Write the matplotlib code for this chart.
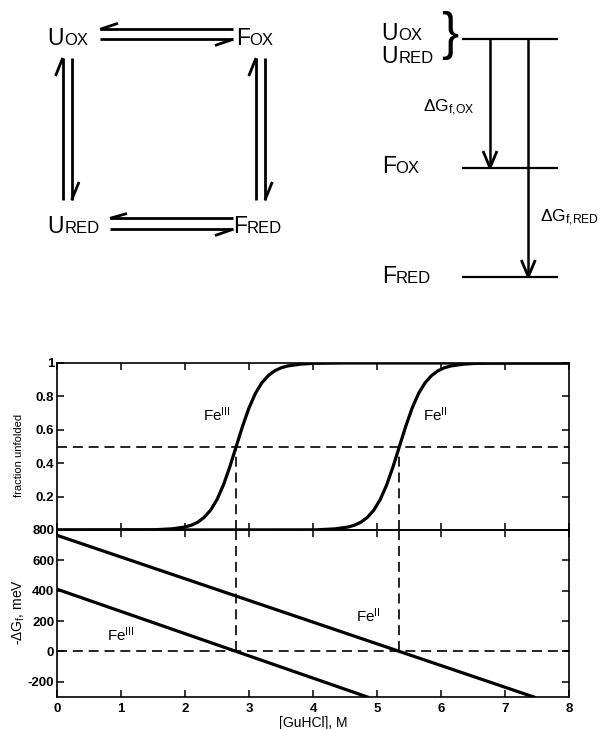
import matplotlib
matplotlib.use("Agg")
import matplotlib.pyplot as plt

plt.rcParams['font.family'] = ['Liberation Sans', 'DejaVu Sans']
plt.rcParams['mathtext.fontset'] = 'custom'
plt.rcParams['mathtext.rm'] = 'Liberation Sans'
plt.rcParams['mathtext.it'] = 'Liberation Sans:italic'
plt.rcParams['mathtext.bf'] = 'Liberation Sans:bold'

# ---------------- data ----------------
guhcl_fe3 = [0, 1.5, 1.8, 2.0, 2.1, 2.2, 2.3, 2.4, 2.5, 2.6, 2.7, 2.8, 2.9, 3.0,
             3.1, 3.2, 3.3, 3.4, 3.5, 3.6, 3.8, 4.0, 4.5, 8]
frac_fe3 = [0, 0.001, 0.007, 0.018, 0.029, 0.047, 0.076, 0.119, 0.182, 0.269,
            0.378, 0.5, 0.622, 0.731, 0.818, 0.881, 0.924, 0.953, 0.971, 0.982,
            0.993, 0.998, 1.0, 1.0]
guhcl_fe2 = [0, 4.05, 4.35, 4.55, 4.65, 4.75, 4.85, 4.95, 5.05, 5.15, 5.25, 5.35,
             5.45, 5.55, 5.65, 5.75, 5.85, 5.95, 6.05, 6.15, 6.35, 6.55, 7.05, 8]
frac_fe2 = frac_fe3

dg_fe3_x = [0, 4.85]
dg_fe3 = [410, -300]
dg_fe2_x = [0, 7.45]
dg_fe2 = [765, -300]

midpoints = [2.8, 5.35]

x_ticks = [0, 1, 2, 3, 4, 5, 6, 7, 8]
frac_ticks = [0.2, 0.4, 0.6, 0.8, 1.0]
frac_ticklabels = ['0.2', '0.4', '0.6', '0.8', '1']
dg_ticks = [-200, 0, 200, 400, 600, 800]
dg_ticklabels = ['-200', '0', '200', '400', '600', '800']

# ---------------- figure ----------------
W, H = 604, 729
fig = plt.figure(figsize=(W / 100, H / 100), dpi=100)

# overlay in pixel coordinates for the schematic diagrams
ax0 = fig.add_axes([0, 0, 1, 1], zorder=0)
ax0.set_xlim(0, W)
ax0.set_ylim(H, 0)
ax0.axis('off')

lw_ar = 2.0
def seg(p, q, lw=lw_ar):
    ax0.plot([p[0], q[0]], [p[1], q[1]], color='black', lw=lw,
             solid_capstyle='butt')

# thermodynamic cycle: half-arrow pairs
# top horizontal
seg((100, 29.3), (233, 29.3)); seg((100, 29.3), (118, 23.3))
seg((100, 39.3), (233, 39.3)); seg((233, 39.3), (215, 45.5))
# bottom horizontal
seg((110, 218.3), (233, 218.3)); seg((110, 218.3), (127, 213.5))
seg((110, 229.3), (233, 229.3)); seg((233, 229.3), (215, 235.5))
# left vertical
seg((62.7, 58), (62.7, 200)); seg((62.7, 58), (55.5, 76))
seg((71.7, 58), (71.7, 200)); seg((71.7, 200), (79, 182))
# right vertical
seg((256, 58), (256, 200)); seg((256, 58), (248.8, 76))
seg((265, 58), (265, 200)); seg((265, 200), (272.3, 182))

def species(x, ybase, main, sub):
    ax0.text(x, ybase, main, fontsize=16.5, ha='left', va='baseline')
    ax0.text(x + (17.5 if main == 'U' else 13.5), ybase, sub,
             fontsize=12, ha='left', va='baseline')

species(47, 45, 'U', 'OX')
species(236, 45, 'F', 'OX')
species(47, 233, 'U', 'RED')
species(233, 233, 'F', 'RED')

# energy level diagram
for yl in (39.3, 167.7, 276.7):
    seg((462, yl), (558, yl), lw=1.6)
seg((490, 39.3), (490, 167.7), lw=1.8)
seg((490, 167.7), (483, 151)); seg((490, 167.7), (497, 151))
seg((528.3, 39.3), (528.3, 276.7), lw=1.8)
seg((528.3, 276.7), (521.3, 260)); seg((528.3, 276.7), (535.3, 260))

species(381, 40, 'U', 'OX')
species(381, 63.3, 'U', 'RED')
species(382, 172.7, 'F', 'OX')
species(382, 282.7, 'F', 'RED')
ax0.text(450, 35, '}', fontsize=37, ha='center', va='center')
ax0.text(423, 112, r'ΔG$_{\mathrm{f{,}OX}}$', fontsize=12.5, ha='left',
         va='baseline')
ax0.text(540, 222, r'ΔG$_{\mathrm{f{,}RED}}$', fontsize=12.5, ha='left',
         va='baseline')

# axis labels in pixel coords
ax0.text(19, 455, 'fraction unfolded', fontsize=8, rotation=90,
         ha='center', va='center')
ax0.text(19, 612, r'-ΔG$_{\mathrm{f}}$, meV', fontsize=10, rotation=90,
         ha='center', va='center')
ax0.text(313, 716.5, '[GuHCl], M', fontsize=10, ha='center', va='top')

# ---------------- data axes ----------------
left = 57 / W
width = (569 - 57) / W
h_ax = (530 - 363) / H
ax1 = fig.add_axes([left, 1 - 530 / H, width, h_ax], zorder=2)
ax2 = fig.add_axes([left, 1 - 697 / H, width, h_ax], zorder=2)
for ax in (ax1, ax2):
    ax.set_facecolor('none')
    for s in ax.spines.values():
        s.set_linewidth(1.2)
    ax.tick_params(direction='in', length=5, width=1.1, top=True, right=True,
                   labelsize=9.5)
    ax.set_xlim(0, 8)
    ax.set_xticks(x_ticks)

lw_c = 2.3
dash = (0, (6, 3.5))

# top: fraction unfolded
ax1.plot(guhcl_fe3, frac_fe3, color='black', lw=lw_c)
ax1.plot(guhcl_fe2, frac_fe2, color='black', lw=lw_c)
ax1.axhline(0.5, color='black', lw=1.2, linestyle=dash)
for m in midpoints:
    ax1.plot([m, m], [0, 0.5], color='black', lw=1.2, linestyle=dash)
ax1.set_ylim(0, 1)
ax1.set_yticks(frac_ticks)
ax1.set_yticklabels(frac_ticklabels, fontweight='bold')
ax1.tick_params(labelbottom=False, pad=2)
ax1.text(2.28, 0.69, r'Fe$^{\mathrm{III}}$', fontsize=11, ha='left',
         va='center')
ax1.text(5.72, 0.69, r'Fe$^{\mathrm{II}}$', fontsize=11, ha='left',
         va='center')

# bottom: -dG
ax2.plot(dg_fe3_x, dg_fe3, color='black', lw=lw_c)
ax2.plot(dg_fe2_x, dg_fe2, color='black', lw=lw_c)
ax2.axhline(0, color='black', lw=1.2, linestyle=dash)
for m in midpoints:
    ax2.plot([m, m], [0, 800], color='black', lw=1.2, linestyle=dash)
ax2.set_ylim(-300, 800)
ax2.set_yticks(dg_ticks)
ax2.set_yticklabels(dg_ticklabels, fontweight='bold')
ax2.set_xticklabels([str(v) for v in x_ticks], fontweight='bold')
ax2.tick_params(axis='y', pad=2)
ax2.tick_params(axis='x', pad=4)
ax2.text(0.78, 110, r'Fe$^{\mathrm{III}}$', fontsize=11, ha='left',
         va='center')
ax2.text(4.67, 236, r'Fe$^{\mathrm{II}}$', fontsize=11, ha='left',
         va='center')

fig.savefig('out.png', dpi=100)
